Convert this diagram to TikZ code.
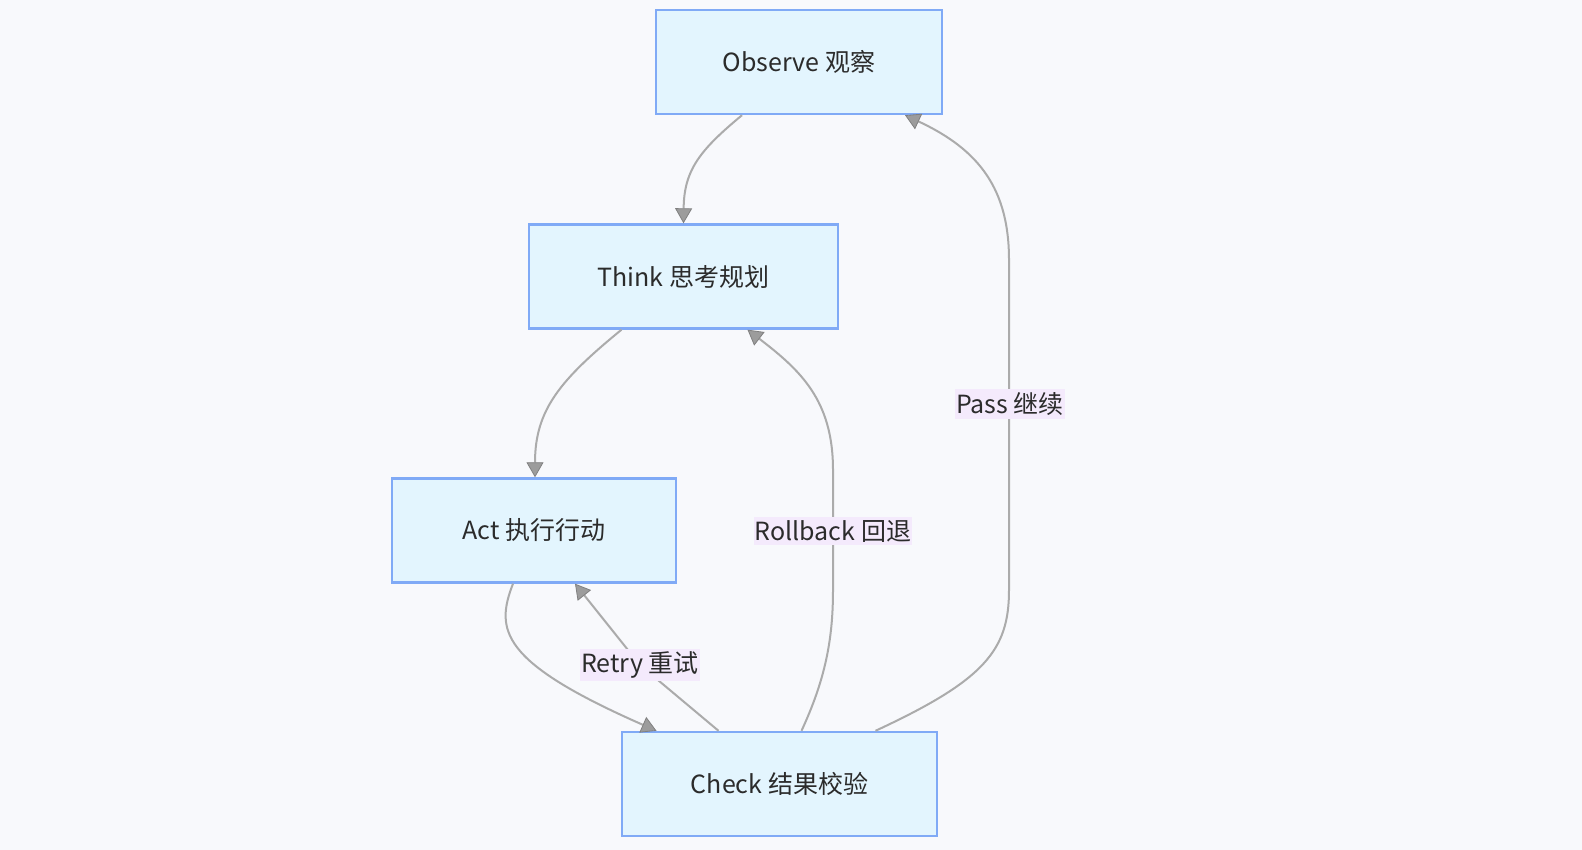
\documentclass[tikz,border=0pt]{standalone}
\usepackage{fontspec}
\setmainfont{Noto Sans CJK SC}
\usetikzlibrary{arrows.meta}
\definecolor{bg}{HTML}{F8F9FC}
\definecolor{boxfill}{HTML}{E3F5FE}
\definecolor{boxdraw}{HTML}{80AAF6}
\definecolor{edgec}{HTML}{ABABAB}
\definecolor{tipc}{HTML}{9C9C9C}
\definecolor{tipd}{HTML}{808080}
\definecolor{lblfill}{HTML}{F4EAFC}
\definecolor{txt}{HTML}{2B2B2B}
\tikzset{
  stepbox/.style={draw=boxdraw, fill=boxfill, line width=2.4pt, minimum width=#1, minimum height=104pt, inner sep=0pt, text=txt, font=\fontsize{25pt}{29pt}\selectfont},
  flow/.style={draw=edgec, line width=2pt, -{Triangle[length=15pt,width=17pt,fill=tipc,color=tipd,line width=0.8pt]}},
  lbl/.style={fill=lblfill, inner xsep=1pt, inner ysep=3pt, text=txt, font=\fontsize{25pt}{29pt}\selectfont}
}
\begin{document}
\begin{tikzpicture}[x=1pt,y=-1pt]
\fill[bg] (0,0) rectangle (1582,850);
\useasboundingbox (0,0) rectangle (1582,850);
\node[stepbox=286pt] (obs) at (799,62) {Observe 观察};
\node[stepbox=309pt] (think) at (683.5,276.5) {Think 思考规划};
\node[stepbox=284pt] (act) at (534,530.5) {Act 执行行动};
\node[stepbox=315pt] (check) at (779.5,784) {Check 结果校验};
% edges
\draw[flow] ([xshift=-57pt]obs.south) .. controls (700,150) and (684,170) .. (think.north);
\draw[flow] ([xshift=-62pt]think.south) .. controls (560,380) and (535,410) .. ([xshift=1pt]act.north);
\draw[flow] ([xshift=-21pt]act.south) .. controls (495,630) and (500,662) .. ([xshift=-123pt]check.north);
\draw[flow] ([xshift=-61pt]check.north) -- (640,665) -- ([xshift=41pt]act.south);
\draw[flow] ([xshift=22pt]check.north) .. controls (825,680) and (833,640) .. (833,590) -- (833,470) .. controls (833,400) and (800,370) .. ([xshift=64pt]think.south);
\draw[flow] ([xshift=96pt]check.north) .. controls (985,680) and (1009,650) .. (1009,590) -- (1009,260) .. controls (1009,190) and (980,150) .. ([xshift=106pt]obs.south);
% labels
\node[lbl] (lretry) at (640,665) {Retry 重试};
\node[lbl] (lroll) at (833,531) {Rollback 回退};
\node[lbl] (lpass) at (1010,404) {Pass 继续};
\end{tikzpicture}
\end{document}
